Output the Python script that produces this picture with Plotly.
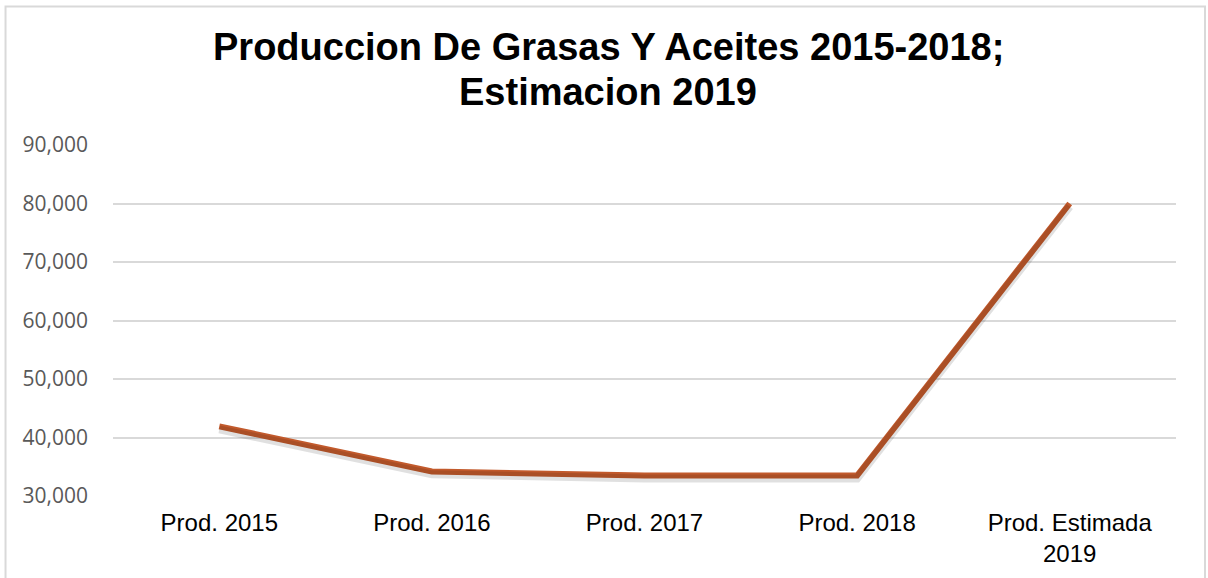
import plotly.graph_objects as go

categories = ["Prod. 2015", "Prod. 2016", "Prod. 2017", "Prod. 2018", "Prod. Estimada<br>2019"]
values = [41900, 34200, 33500, 33500, 80000]
y_ticks = [30000, 40000, 50000, 60000, 70000, 80000, 90000]
y_tick_labels = ["30,000", "40,000", "50,000", "60,000", "70,000", "80,000", "90,000"]
title_lines = ["Produccion De Grasas Y Aceites 2015-2018;", "Estimacion 2019"]

x_idx = list(range(len(categories)))

fig = go.Figure()
# soft shadow, drawn on an overlaid axis shifted a few pixels
fig.add_trace(go.Scatter(
    x=x_idx, y=values, mode="lines", yaxis="y2",
    line=dict(color="rgba(0,0,0,0.12)", width=8),
    hoverinfo="skip", showlegend=False,
))
fig.add_trace(go.Scatter(
    x=x_idx, y=values, mode="lines",
    line=dict(color="#C25A2C", width=6),
    showlegend=False,
))

title_font = dict(family="Liberation Sans, Arial", size=38, color="black", weight="bold")
annotations = [
    dict(text=title_lines[0], xref="paper", yref="paper", x=0.466, y=1.279,
         xanchor="center", yanchor="middle", showarrow=False, font=title_font),
    dict(text=title_lines[1], xref="paper", yref="paper", x=0.466, y=1.151,
         xanchor="center", yanchor="middle", showarrow=False, font=title_font),
]

fig.update_layout(
    width=1208, height=578,
    margin=dict(l=113, r=32, t=145, b=82),
    paper_bgcolor="white", plot_bgcolor="white",
    annotations=annotations,
    xaxis=dict(
        range=[-0.5, len(categories) - 0.5],
        tickmode="array", tickvals=x_idx, ticktext=categories,
        showgrid=False, zeroline=False, showline=False,
        ticks="", ticklabelstandoff=10,
        tickfont=dict(family="Liberation Sans, Arial", size=24, color="black"),
    ),
    yaxis=dict(
        range=[30000, 90000],
        tickmode="array", tickvals=y_ticks, ticktext=y_tick_labels,
        showgrid=True, gridcolor="#d9d9d9", gridwidth=1.5,
        zeroline=False, showline=False, ticks="", ticklabelstandoff=24,
        tickfont=dict(family="Open Sans", size=21, color="#595959"),
    ),
    yaxis2=dict(
        overlaying="y", range=[30000 + 500, 90000 + 500],
        visible=False, showgrid=False,
    ),
    shapes=[dict(
        type="rect", xref="paper", yref="paper",
        x0=-0.1011, x1=1.0273, y0=-0.25, y1=1.3946,
        line=dict(color="#d9d9d9", width=2), fillcolor="rgba(0,0,0,0)", layer="below",
    )],
)

fig.write_html("out.html", config={"displayModeBar": False},
               post_script="document.body.style.margin='0';")
